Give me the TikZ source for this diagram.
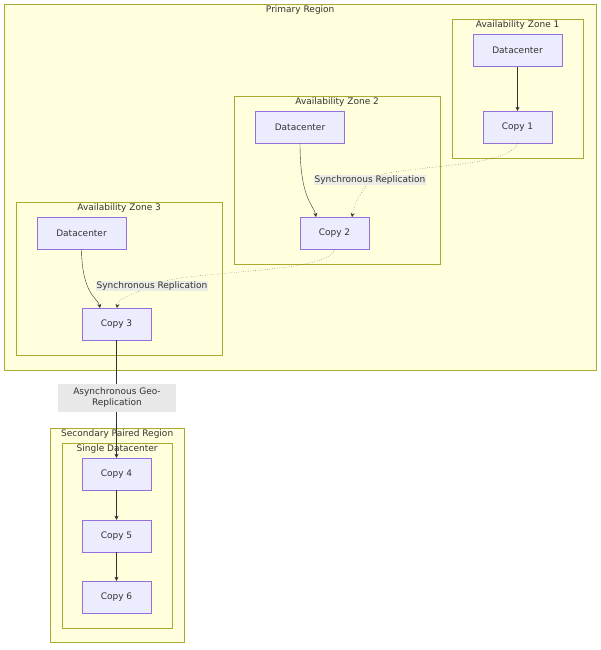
\documentclass[tikz,border=0pt]{standalone}
\usepackage{fontspec}
\setmainfont{DejaVu Sans}
\usetikzlibrary{arrows.meta,positioning,calc}
\definecolor{nodefill}{HTML}{ECECFF}
\definecolor{nodeline}{HTML}{9370DB}
\definecolor{zonefill}{HTML}{FFFFDE}
\definecolor{zoneline}{HTML}{AAAA33}
\definecolor{edgeline}{HTML}{333333}
\definecolor{labelfill}{HTML}{E8E8E8}
\definecolor{textcol}{HTML}{333333}
\tikzset{
  box/.style={draw=nodeline, fill=nodefill, minimum width=69pt, minimum height=32pt, text=textcol, font=\fontsize{9}{11}\selectfont, inner sep=0pt},
  zone/.style={draw=zoneline, fill=zonefill, inner sep=0pt, anchor=north west},
  zonetitle/.style={font=\fontsize{9}{11}\selectfont, text=textcol, anchor=north, inner sep=1.5pt},
  link/.style={draw=edgeline, -{Stealth[length=4pt,width=4pt]}},
  elabel/.style={fill=labelfill, fill opacity=0.8, text opacity=1, text=textcol, font=\fontsize{9}{11}\selectfont, inner sep=1pt, align=center}
}
\begin{document}
\begin{tikzpicture}[x=1pt,y=-1pt]
\useasboundingbox (0,0) rectangle (600,650);
% Regions and zones
\node[zone, minimum width=592pt, minimum height=366pt] (primary) at (4,4) {};
\node[zonetitle] at (primary.north) {Primary Region};
\node[zone, minimum width=131pt, minimum height=139pt] (zone1) at (452,19) {};
\node[zonetitle] at (zone1.north) {Availability Zone 1};
\node[zone, minimum width=206pt, minimum height=168pt] (zone2) at (234,96) {};
\node[zonetitle] at (zone2.north) {Availability Zone 2};
\node[zone, minimum width=206pt, minimum height=153pt] (zone3) at (16,202) {};
\node[zonetitle] at (zone3.north) {Availability Zone 3};
\node[zone, minimum width=134pt, minimum height=214pt] (secondary) at (50,428) {};
\node[zonetitle] at (secondary.north) {Secondary Paired Region};
\node[zone, minimum width=110pt, minimum height=185pt] (single) at (62,443) {};
\node[zonetitle] at (single.north) {Single Datacenter};

% Nodes
\node[box, minimum width=89pt] (dc1) at (517.5,50.5) {Datacenter};
\node[box] (copy1) at (517.5,127) {Copy 1};
\node[box, minimum width=89pt] (dc2) at (300,127) {Datacenter};
\node[box] (copy2) at (334.5,233) {Copy 2};
\node[box, minimum width=89pt] (dc3) at (81.5,233) {Datacenter};
\node[box] (copy3) at (116.5,324) {Copy 3};
\node[box] (copy4) at (116.5,474) {Copy 4};
\node[box] (copy5) at (116.5,536) {Copy 5};
\node[box] (copy6) at (116.5,597) {Copy 6};

% Edges
\draw[link] (dc1) -- (copy1);
\draw[link] (dc2.south) .. controls (300,200) and (314,205) .. (316,217);
\draw[link] (dc3.south) .. controls (82,295) and (98,298) .. (100,308);
\draw[link, dotted] (copy1.south) .. controls (510,170) and (380,165) .. (370,180)
  .. controls (360,195) and (355,200) .. (352,217);
\node[elabel] (sync1) at (370,180) {Synchronous Replication};
\draw[link, dotted] (copy2.south) .. controls (330,275) and (170,270) .. (152,286)
  .. controls (130,295) and (118,298) .. (117,308);
\node[elabel] (sync2) at (152,286) {Synchronous Replication};
\draw[link] (copy3) -- (copy4);
\node[elabel, fill opacity=1, minimum width=118pt, minimum height=28pt] (async) at (117,398) {Asynchronous Geo-\\Replication};
\draw[link] (copy4) -- (copy5);
\draw[link] (copy5) -- (copy6);
\end{tikzpicture}
\end{document}
